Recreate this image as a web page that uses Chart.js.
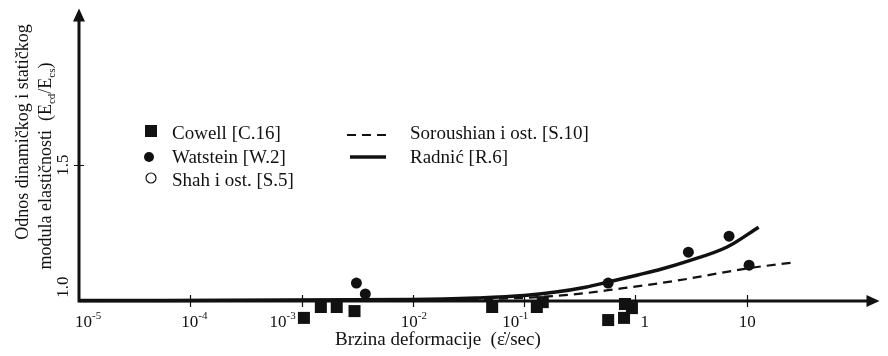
<!DOCTYPE html>
<html>
<head>
<meta charset="utf-8">
<script src="https://cdn.jsdelivr.net/npm/chart.js@4/dist/chart.umd.min.js"></script>
<style>
  html, body { margin: 0; padding: 0; background: #fff; }
  #wrap { width: 888px; height: 356px; }
</style>
</head>
<body>
<div id="wrap"><canvas id="chart" width="888" height="356"></canvas></div>
<script>
/* Odnos Ecd/Ecs u funkciji brzine deformacije — log x osa, Chart.js */

'use strict';

// ── Podaci ────────────────────────────────────────────
const cowellX = [0.00105, 0.00149, 0.00207, 0.00299, 0.0516, 0.130, 0.147, 0.569, 0.79, 0.805, 0.93];
const cowellY = [0.938, 0.978, 0.978, 0.963, 0.978, 0.978, 0.996, 0.930, 0.938, 0.989, 0.974];

const watsteinX = [0.00311, 0.00374, 0.569, 2.99, 6.94, 10.5];
const watsteinY = [1.066, 1.026, 1.066, 1.180, 1.239, 1.132];

const shahX = [];
const shahY = [];

const soroushianX = [1e-5, 0.01, 0.1, 0.192, 0.355, 0.569, 2.25, 10.5, 27.4];
const soroushianY = [1.001, 1.004, 1.012, 1.019, 1.029, 1.040, 1.074, 1.121, 1.143];

const radnicX = [1e-5, 0.01, 0.0372, 0.1, 0.192, 0.355, 0.569, 1.05, 1.72, 2.96, 6.66, 12.8];
const radnicY = [1.002, 1.0055, 1.011, 1.020, 1.033, 1.051, 1.070, 1.096, 1.118, 1.147, 1.199, 1.272];

const xTicks    = [1e-5, 1e-4, 1e-3, 1e-2, 1e-1, 1, 10];
const xTickBase = ['10', '10', '10', '10', '10', '1', '10'];
const xTickExp  = ['-5', '-4', '-3', '-2', '-1', '', ''];

const yTicks      = [1.0, 1.5];
const yTickLabels = ['1.0', '1.5'];

const seriesNames = ['Cowell [C.16]', 'Watstein [W.2]', 'Shah i ost. [S.5]', 'Soroushian i ost. [S.10]', 'Radnić [R.6]'];

// ── Stil ──────────────────────────────────────────────
const INK   = '#111111';
const SERIF = "'Liberation Serif', 'Times New Roman', serif";
const X_MIN = 1e-5, X_MAX = 156;
// y osa počinje od 1.0; skala ide nešto niže da bi tačke ispod ose ostale vidljive
const Y_AXIS = 1.0, Y_MIN = 0.8934, Y_MAX = 2.077;

// ručno pomjeranje natpisa ispod podioka (lijeva ivica u odnosu na podiok)
const xLabelShift = [-4, -9, -32, -12, -22, 5, -8];

const pts = (xs, ys) => xs.map((v, i) => ({ x: v, y: ys[i] }));

// crta tekst sa indeksima / eksponentima: parts = [[tekst, pomak]], pomak 1 = gore, -1 = dolje
function drawRich(ctx, parts, x, y, size, align) {
  const small = Math.round(size * 0.62);
  const widths = parts.map(([t, s]) => {
    ctx.font = `${s ? small : size}px ${SERIF}`;
    return ctx.measureText(t).width;
  });
  const total = widths.reduce((a, b) => a + b, 0);
  let cx = align === 'center' ? x - total / 2 : x;
  ctx.textAlign = 'left';
  ctx.textBaseline = 'alphabetic';
  parts.forEach(([t, s], i) => {
    ctx.font = `${s ? small : size}px ${SERIF}`;
    const dy = s > 0 ? -size * 0.45 : s < 0 ? size * 0.22 : 0;
    ctx.fillText(t, cx, y + dy);
    cx += widths[i];
  });
}

// ── Ose sa strelicama, podioci i natpisi ──────────────
const arrowAxes = {
  id: 'arrowAxes',
  beforeDatasetsDraw(chart) {
    const { ctx, chartArea: a, scales: { x, y } } = chart;
    const x0 = x.getPixelForValue(X_MIN);
    const y0 = y.getPixelForValue(Y_AXIS);
    ctx.save();
    ctx.strokeStyle = INK;
    ctx.fillStyle = INK;

    ctx.lineWidth = 3;
    ctx.beginPath();
    ctx.moveTo(x0 - 1.5, y0); ctx.lineTo(a.right - 10, y0);
    ctx.moveTo(x0, y0 + 1.5); ctx.lineTo(x0, a.top + 10);
    ctx.stroke();

    ctx.beginPath();
    ctx.moveTo(a.right, y0); ctx.lineTo(a.right - 13, y0 - 6); ctx.lineTo(a.right - 13, y0 + 6); ctx.closePath();
    ctx.moveTo(x0, a.top); ctx.lineTo(x0 - 6, a.top + 13); ctx.lineTo(x0 + 6, a.top + 13); ctx.closePath();
    ctx.fill();

    ctx.lineWidth = 1.2;
    ctx.beginPath();
    xTicks.slice(1).forEach(v => {
      const px = Math.round(x.getPixelForValue(v)) + 0.5;
      ctx.moveTo(px, y0 - 6); ctx.lineTo(px, y0 + 6);
    });
    yTicks.slice(1).forEach(v => {
      const py = Math.round(y.getPixelForValue(v)) + 0.5;
      ctx.moveTo(x0 - 5, py); ctx.lineTo(x0 + 5, py);
    });
    ctx.stroke();

    // natpisi x ose
    xTicks.forEach((v, i) => {
      const px = x.getPixelForValue(v) + xLabelShift[i];
      const parts = [[xTickBase[i], 0]];
      if (xTickExp[i]) parts.push([xTickExp[i], 1]);
      drawRich(ctx, parts, px, y0 + 26, 17, 'left');
    });

    // natpisi y ose (rotirani)
    yTicks.forEach((v, i) => {
      const py = y.getPixelForValue(v) - (i === 0 ? 14 : 0);
      ctx.save();
      ctx.translate(68, py);
      ctx.rotate(-Math.PI / 2);
      drawRich(ctx, [[yTickLabels[i], 0]], 0, 0, 17, 'center');
      ctx.restore();
    });

    // naslov x ose
    drawRich(ctx, [['Brzina deformacije  (ε̇/sec)', 0]], 335, 345, 19, 'left');

    // naslov y ose, dva reda
    ctx.save();
    ctx.translate(28, 132);
    ctx.rotate(-Math.PI / 2);
    drawRich(ctx, [['Odnos dinamičkog i statičkog', 0]], 0, 0, 18, 'center');
    ctx.restore();
    ctx.save();
    ctx.translate(51, 166);
    ctx.rotate(-Math.PI / 2);
    drawRich(ctx, [['modula elastičnosti  (E', 0], ['cd', -1], ['/E', 0], ['cs', -1], [')', 0]], 0, 0, 18, 'center');
    ctx.restore();

    ctx.restore();
  }
};

// ── Legenda u dvije kolone ───────────────────────────
const legendSpots = [
  { mx: 151, my: 131, tx: 172, ty: 139 },
  { mx: 149, my: 157, tx: 172, ty: 163 },
  { mx: 151, my: 178, tx: 172, ty: 186 },
  { mx: 347, my: 135, tx: 410, ty: 139 },
  { mx: 350, my: 157, tx: 410, ty: 163 }
];

const boxLegend = {
  id: 'boxLegend',
  afterDraw(chart) {
    const { ctx } = chart;
    ctx.save();
    chart.data.datasets.forEach((ds, i) => {
      const s = legendSpots[i];
      ctx.strokeStyle = INK;
      ctx.fillStyle = INK;
      if (ds.showLine) {
        ctx.lineWidth = ds.borderWidth;
        ctx.setLineDash(ds.borderDash || []);
        ctx.beginPath();
        ctx.moveTo(s.mx, s.my); ctx.lineTo(386, s.my);
        ctx.stroke();
        ctx.setLineDash([]);
      } else if (ds.pointStyle === 'rect') {
        ctx.fillRect(s.mx - 6, s.my - 6, 12, 12);
      } else {
        ctx.beginPath();
        ctx.arc(s.mx, s.my, 5, 0, Math.PI * 2);
        if (ds.pointBackgroundColor === '#ffffff') {
          ctx.fillStyle = '#ffffff';
          ctx.fill();
          ctx.lineWidth = 1.2;
          ctx.stroke();
        } else {
          ctx.fill();
        }
      }
      ctx.fillStyle = INK;
      drawRich(ctx, [[ds.label, 0]], s.tx, s.ty, 19, 'left');
    });
    ctx.restore();
  }
};

// ── Grafikon ──────────────────────────────────────────
new Chart(document.getElementById('chart'), {
  type: 'scatter',
  data: {
    datasets: [
      {
        label: seriesNames[0],
        data: pts(cowellX, cowellY),
        pointStyle: 'rect',
        pointRadius: 8.5,
        pointBackgroundColor: INK,
        pointBorderWidth: 0,
        clip: false
      },
      {
        label: seriesNames[1],
        data: pts(watsteinX, watsteinY),
        pointStyle: 'circle',
        pointRadius: 5.5,
        pointBackgroundColor: INK,
        pointBorderWidth: 0,
        clip: false
      },
      {
        label: seriesNames[2],
        data: pts(shahX, shahY),
        pointStyle: 'circle',
        pointRadius: 5,
        pointBackgroundColor: '#ffffff',
        pointBorderColor: INK,
        pointBorderWidth: 1.2,
        clip: false
      },
      {
        label: seriesNames[3],
        data: pts(soroushianX, soroushianY),
        showLine: true,
        borderColor: INK,
        borderWidth: 2.2,
        borderDash: [9, 6],
        pointRadius: 0,
        cubicInterpolationMode: 'monotone',
        clip: false
      },
      {
        label: seriesNames[4],
        data: pts(radnicX, radnicY),
        showLine: true,
        borderColor: INK,
        borderWidth: 3.5,
        pointRadius: 0,
        cubicInterpolationMode: 'monotone',
        clip: false
      }
    ]
  },
  options: {
    responsive: false,
    animation: false,
    devicePixelRatio: 1,
    layout: { padding: { left: 79, top: 8, right: 1, bottom: 26 } },
    plugins: { legend: { display: false }, tooltip: { enabled: false } },
    scales: {
      x: { type: 'logarithmic', min: X_MIN, max: X_MAX, display: false },
      y: { type: 'linear', min: Y_MIN, max: Y_MAX, display: false }
    }
  },
  plugins: [arrowAxes, boxLegend]
});
</script>
</body>
</html>
